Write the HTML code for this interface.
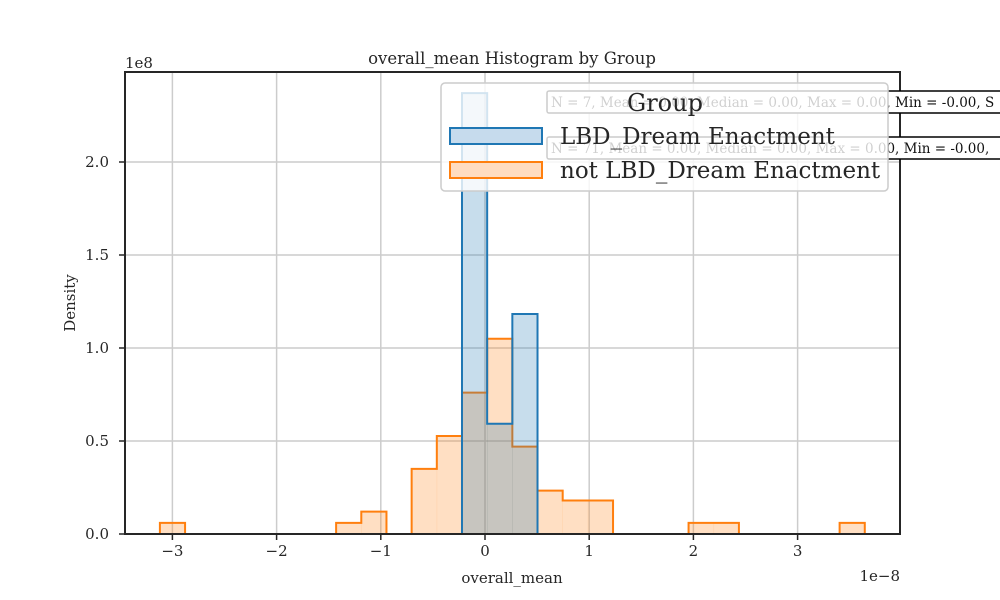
<!DOCTYPE html>
<html><head><meta charset="utf-8"><style>
body{margin:0;background:#fff}
svg{display:block;font-family:"DejaVu Serif","Liberation Serif",serif}
</style></head><body>
<svg id="chart" width="1000" height="600" viewBox="0 0 1000 600"></svg>
<script>
const binStart = -3.12;
const binWidth = 0.2416;
const orangeDensity = [0.06,0,0,0,0,0,0,0.06,0.12,0,0.35,0.527,0.76,1.05,0.47,0.233,0.18,0.18,0,0,0,0.06,0.06,0,0,0,0,0.06];
const blueBins = [12,13,14];
const blueDensity = [2.37,0.593,1.183];
const xTicks = [-3,-2,-1,0,1,2,3];
const xTickLabels = ["\u22123","\u22122","\u22121","0","1","2","3"];
const yTicks = [0,0.5,1.0,1.5,2.0];
const yTickLabels = ["0.0","0.5","1.0","1.5","2.0"];

const L=125,R=900,T=72,B=534;
const xs=v=>485+v*104.2;
const ys=v=>B-v*186;
const NS="http://www.w3.org/2000/svg";
const svg=document.getElementById('chart');
function mk(tag,attrs,parent){const e=document.createElementNS(NS,tag);for(const k in attrs)e.setAttribute(k,attrs[k]);(parent||svg).appendChild(e);return e;}

xTicks.forEach(t=>{const g=mk('line',{x1:xs(t),x2:xs(t),y1:T,y2:B,stroke:'#cccccc','stroke-width':1.5});

});
yTicks.forEach(t=>{const g=mk('line',{x1:L,x2:R,y1:ys(t),y2:ys(t),stroke:'#cccccc','stroke-width':1.5});

});

function stepPath(vals,idx){
  let d='';let open=false;let lastX=null;let prevI=null;
  for(let k=0;k<vals.length;k++){
    const i=idx?idx[k]:k;const v=vals[k];
    const x0=xs(binStart+i*binWidth),x1=xs(binStart+(i+1)*binWidth);
    if(v<=0||(open&&prevI!==i-1)){ if(open){d+=`L${lastX},${B}`;open=false;} if(v<=0){prevI=i;continue;} }
    if(!open){d+=`M${x0},${B}`;open=true;}
    d+=`L${x0},${ys(v)}L${x1},${ys(v)}`;lastX=x1;prevI=i;
  }
  if(open)d+=`L${lastX},${B}`;
  return d;
}
orangeDensity.forEach((v,i)=>{if(v<=0)return;const x0=xs(binStart+i*binWidth),x1=xs(binStart+(i+1)*binWidth);
const r=mk('rect',{x:x0,y:ys(v),width:x1-x0+0.3,height:B-ys(v),fill:'rgba(255,127,14,0.25)'});

});
const op=mk('path',{d:stepPath(orangeDensity),fill:'none',stroke:'#ff7f0e','stroke-width':2});


blueBins.forEach((i,k)=>{const v=blueDensity[k];const x0=xs(binStart+i*binWidth),x1=xs(binStart+(i+1)*binWidth);
const r=mk('rect',{x:x0,y:ys(v),width:x1-x0+0.3,height:B-ys(v),fill:'rgba(31,119,180,0.25)'});

});
const bp=mk('path',{d:stepPath(blueDensity,blueBins),fill:'none',stroke:'#1f77b4','stroke-width':2});



const sp=mk('rect',{x:L,y:T,width:R-L,height:B-T,fill:'none',stroke:'#262626','stroke-width':2});



xTicks.forEach((t,i)=>{mk('line',{x1:xs(t),x2:xs(t),y1:B,y2:B+6,stroke:'#262626','stroke-width':1.5});
const tx=mk('text',{x:xs(t),y:B+22,'text-anchor':'middle','font-size':15,fill:'#262626'});tx.textContent=xTickLabels[i];

});
yTicks.forEach((t,i)=>{mk('line',{x1:L-6,x2:L,y1:ys(t),y2:ys(t),stroke:'#262626','stroke-width':1.5});
const tx=mk('text',{x:L-16,y:ys(t)+5,'text-anchor':'end','font-size':15,fill:'#262626'});tx.textContent=yTickLabels[i];

});
</script>
<svg width="1000" height="600" style="position:absolute;left:0;top:0" font-family="DejaVu Serif, Liberation Serif, serif">
<text x="512" y="64" text-anchor="middle" font-size="16.5" fill="#262626">overall_mean Histogram by Group</text>
<text x="125" y="68" font-size="15" fill="#262626">1e8</text>
<text x="900" y="581" text-anchor="end" font-size="15" fill="#262626">1e−8</text>
<text x="512" y="583" text-anchor="middle" font-size="15" fill="#262626">overall_mean</text>
<text x="75" y="303" text-anchor="middle" font-size="15" fill="#262626" transform="rotate(-90 75 303)">Density</text>
<g>
<rect x="547" y="91" width="460" height="22" rx="2" fill="#fff" stroke="#000" stroke-width="1.5"/>
<text x="551" y="107" font-size="13.5" fill="#111">N = 7, Mean = 0.00, Median = 0.00, Max = 0.00, Min = -0.00, S</text>
</g>
<g>
<rect x="547" y="137" width="460" height="22" rx="2" fill="#fff" stroke="#000" stroke-width="1.5"/>
<text x="551" y="153" font-size="13.5" fill="#111">N = 71, Mean = 0.00, Median = 0.00, Max = 0.00, Min = -0.00,</text>
</g>
<g>
<rect x="441" y="83" width="447" height="108" rx="4" fill="rgba(255,255,255,0.8)" stroke="#cccccc" stroke-width="1.5"/>
<text x="665" y="111" text-anchor="middle" font-size="24" fill="#262626">Group</text>
<g>
<rect x="450" y="128" width="92" height="16" fill="#c6dbed" stroke="#1f77b4" stroke-width="2"/>
<text x="560" y="144" font-size="23" fill="#262626">LBD_Dream Enactment</text>
</g>
<g>
<rect x="450" y="162" width="92" height="16" fill="#ffdcc0" stroke="#ff7f0e" stroke-width="2"/>
<text x="560" y="178" font-size="23" fill="#262626">not LBD_Dream Enactment</text>
</g>
</g>
</svg>
</body></html>
